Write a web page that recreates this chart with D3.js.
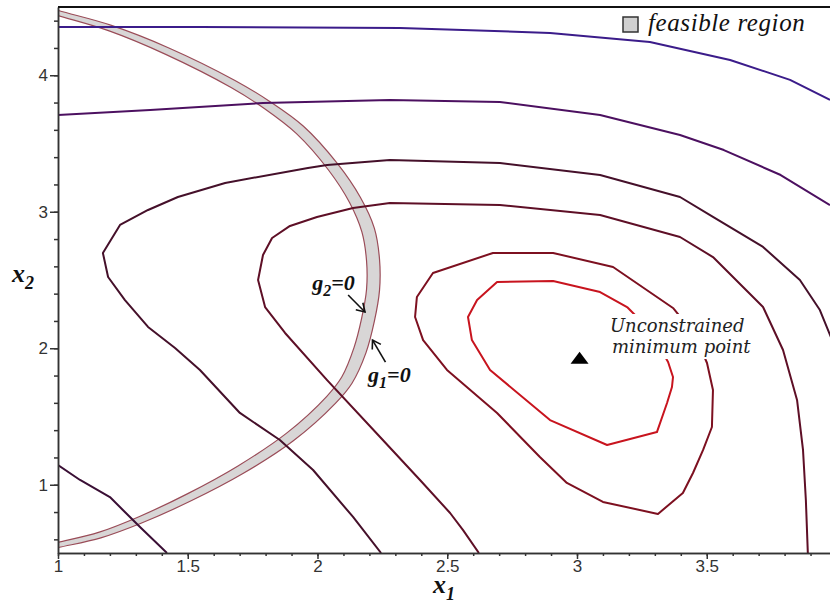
<!DOCTYPE html>
<head>
    <meta charset="utf-8">
    <script src="https://d3js.org/d3.v7.min.js"></script>
    <style>
        body { margin:0; background:#fff; }
        .tick text { font-family: "Liberation Sans", Arial, sans-serif; font-size: 17px; fill: #333; }
        .domain, .tick line { stroke: #333; stroke-width: 1.5; }
        .contour { fill: none; stroke-width: 2; stroke-linejoin: round; }
        .band { fill: #d8d6d6; stroke: none; }
        .edge { fill: none; stroke: #9a4c58; stroke-width: 1.2; }
        .note { font-family: "Liberation Serif", serif; font-style: italic; font-weight: bold; font-size: 22px; fill: #111; }
        .axlabel { font-family: "Liberation Serif", serif; font-style: italic; font-weight: bold; font-size: 26px; fill: #111; }
        .legend { font-family: "Liberation Serif", serif; font-style: italic; font-size: 25px; letter-spacing: 0.6px; fill: #111; }
        .minnote { font-family: "DejaVu Serif", serif; font-style: italic; font-size: 18px; fill: #222; }
    </style>
</head>

<body>
<script>
    // axis ticks
    var xTicks = [1, 1.5, 2, 2.5, 3, 3.5];
    var yTicks = [1, 2, 3, 4];

    // contour levels as (x1, x2)
    var levelA = [[1.00,4.354],[1.547,4.354],[2.318,4.346],[2.896,4.310],[3.281,4.244],[3.590,4.112],[3.821,3.966],[3.975,3.819]];
    var levelB = [[1.00,3.709],[1.355,3.745],[1.790,3.797],[2.279,3.819],[2.703,3.804],[3.089,3.709],[3.397,3.562],[3.566,3.452],[3.785,3.269],[3.975,3.049]];
    var levelC = [[3.983,2.060],[3.936,2.280],[3.859,2.500],[3.717,2.742],[3.524,2.962],[3.397,3.108],[3.089,3.269],[2.703,3.357],
        [2.279,3.379],[2.037,3.342],[1.963,3.321],[1.644,3.211],[1.462,3.108],[1.347,3.013],[1.239,2.903],[1.173,2.698],
        [1.193,2.522],[1.258,2.353],[1.347,2.156],[1.451,2.002],[1.547,1.841],[1.701,1.526],[1.855,1.328],[1.983,1.108],
        [2.137,0.764],[2.245,0.500]];
    var levelD = [[3.890,0.478],[3.882,0.888],[3.871,1.255],[3.848,1.621],[3.794,1.987],[3.717,2.302],[3.524,2.668],[3.397,2.815],
        [3.089,2.976],[2.703,3.049],[2.279,3.064],[2.137,3.027],[1.998,2.962],[1.894,2.896],[1.825,2.808],[1.790,2.683],
        [1.771,2.500],[1.798,2.302],[1.875,2.112],[2.037,1.767],[2.241,1.350],[2.395,1.035],[2.511,0.793],[2.561,0.668],[2.622,0.500]];
    var levelE = [[3.370,2.295],[3.139,2.595],[2.908,2.698],[2.676,2.698],[2.445,2.551],[2.383,2.375],[2.376,2.229],[2.407,2.060],
        [2.499,1.841],[2.692,1.526],[2.857,1.203],[2.961,1.013],[3.100,0.874],[3.312,0.786],[3.408,0.940],[3.447,1.086],
        [3.486,1.255],[3.520,1.423],[3.524,1.694],[3.501,1.892],[3.455,2.097],[3.370,2.295]];
    var levelF = [[3.193,2.302],[3.089,2.412],[2.908,2.493],[2.692,2.485],[2.615,2.353],[2.580,2.229],[2.595,2.060],[2.665,1.841],
        [2.896,1.474],[3.116,1.291],[3.308,1.386],[3.347,1.599],[3.366,1.716],[3.370,1.789],[3.351,1.899],[3.281,2.134],[3.193,2.302]];
    var levelG = [[0.97,1.17],[1.000,1.145],[1.085,1.035],[1.200,0.910],[1.250,0.815],[1.316,0.690],[1.420,0.500]];

    // constraint boundaries
    var g1Edge = [[0.894,4.537],[1.002,4.474],[1.203,4.367],[1.425,4.202],[1.682,3.962],[1.816,3.808],[1.946,3.626],[2.077,3.352],
        [2.165,3.106],[2.219,2.880],[2.239,2.652],[2.239,2.424],[2.219,2.196],[2.187,1.968],[2.133,1.744],[2.069,1.596],
        [1.907,1.322],[1.711,1.080],[1.515,0.884],[1.320,0.718],[1.165,0.611],[1.002,0.540],[0.894,0.493]];
    var g2Edge = [[0.890,4.500],[0.998,4.438],[1.197,4.325],[1.415,4.153],[1.667,3.910],[1.795,3.756],[1.919,3.572],[2.043,3.304],
        [2.124,3.066],[2.171,2.852],[2.189,2.641],[2.189,2.430],[2.170,2.218],[2.141,2.006],[2.094,1.791],[2.035,1.646],
        [1.881,1.378],[1.692,1.136],[1.502,0.937],[1.312,0.766],[1.159,0.653],[0.998,0.577],[0.890,0.529]];

    var minPoint = [3.01, 1.93];

    var contours = [
        { pts: levelA, color: '#3b1c8a' },
        { pts: levelB, color: '#4c1060' },
        { pts: levelG, color: '#3a0f35' },
        { pts: levelC, color: '#45102a' },
        { pts: levelD, color: '#5e0f26' },
        { pts: levelE, color: '#7d1020' },
        { pts: levelF, color: '#c8141e' }
    ];

    var width = 830, height = 608;
    var pLeft = 58, pRight = 830, pTop = 7, pBottom = 553;

    var x = d3.scaleLinear().domain([1, 3.975]).range([pLeft, pRight]);
    var y = d3.scaleLinear().domain([0.5, 4.5]).range([pBottom, pTop]);

    var svg = d3.select('body').append('svg')
        .attr('width', width)
        .attr('height', height);

    var defs = svg.append('defs');
    defs.append('clipPath').attr('id', 'plot')
        .append('rect')
        .attr('x', pLeft).attr('y', pTop)
        .attr('width', pRight - pLeft).attr('height', pBottom - pTop);

    var marker = defs.append('marker')
        .attr('id', 'arrow')
        .attr('markerUnits', 'userSpaceOnUse')
        .attr('markerWidth', 20).attr('markerHeight', 20)
        .attr('refX', 10).attr('refY', 10)
        .attr('orient', 'auto');
    marker.append('path')
        .attr('d', 'M2,5 L10,10 L2,15')
        .attr('fill', 'none').attr('stroke', '#111').attr('stroke-width', 1.6);

    var line = d3.line().x(d => x(d[0])).y(d => y(d[1]));
    var smooth = d3.line().x(d => x(d[0])).y(d => y(d[1])).curve(d3.curveCatmullRom);

    var plot = svg.append('g').attr('clip-path', 'url(#plot)');

    // feasible band
    plot.append('path')
        .attr('class', 'band')
        .attr('d', smooth(g1Edge) + 'L' + smooth(g2Edge.slice().reverse()).slice(1) + 'Z');
    plot.append('path').attr('class', 'edge').attr('d', smooth(g1Edge));
    plot.append('path').attr('class', 'edge').attr('d', smooth(g2Edge));

    contours.forEach(c => {
        plot.append('path')
            .attr('class', 'contour')
            .attr('stroke', c.color)
            .attr('d', line(c.pts));
    });

    // axes
    svg.append('g')
        .attr('transform', 'translate(0,' + pBottom + ')')
        .call(d3.axisBottom(x).tickValues(d3.range(1, 3.95, 0.1)).tickSize(3).tickFormat('').tickSizeOuter(0));
    svg.append('g')
        .attr('transform', 'translate(0,' + pBottom + ')')
        .call(d3.axisBottom(x).tickValues(xTicks).tickSize(6).tickPadding(1).tickFormat(d3.format('')).tickSizeOuter(0));
    svg.append('g')
        .attr('transform', 'translate(' + pLeft + ',0)')
        .call(d3.axisLeft(y).tickValues(d3.range(0.6, 4.5, 0.2)).tickSize(4).tickFormat('').tickSizeOuter(0));
    svg.append('g')
        .attr('transform', 'translate(' + pLeft + ',0)')
        .call(d3.axisLeft(y).tickValues(yTicks).tickSize(8).tickPadding(2).tickFormat(d3.format('')).tickSizeOuter(0));

    svg.append('line')
        .attr('x1', pLeft).attr('x2', pRight)
        .attr('y1', pTop).attr('y2', pTop)
        .attr('stroke', '#111').attr('stroke-width', 2);

    // axis titles
    var xl = svg.append('text').attr('class', 'axlabel')
        .attr('x', (pLeft + pRight) / 2).attr('y', 593).attr('text-anchor', 'middle');
    xl.append('tspan').text('x');
    xl.append('tspan').attr('dy', 7).attr('font-size', 18).text('1');

    var yl = svg.append('text').attr('class', 'axlabel')
        .attr('x', 12).attr('y', 282);
    yl.append('tspan').text('x');
    yl.append('tspan').attr('dy', 7).attr('font-size', 18).text('2');

    // unconstrained minimum
    var tri = [x(minPoint[0]), y(minPoint[1])];
    svg.append('path')
        .attr('d', 'M' + (tri[0] - 9) + ',' + (tri[1] + 6) + 'L' + (tri[0] + 9) + ',' + (tri[1] + 6) + 'L' + tri[0] + ',' + (tri[1] - 6) + 'Z')
        .attr('fill', '#000');

    var noteG = svg.append('g');
    var noteBg = noteG.append('rect').attr('fill', '#fff');
    var note = noteG.append('text').attr('class', 'minnote');
    note.append('tspan').attr('x', x(3.127)).attr('y', y(2.119)).text('Unconstrained');
    note.append('tspan').attr('x', x(3.135)).attr('y', y(1.965)).text('minimum point');
    var bb = note.node().getBBox();
    noteBg.attr('x', bb.x - 3).attr('y', bb.y - 1).attr('width', bb.width + 2).attr('height', bb.height + 3);

    // constraint labels
    function gLabel(sub, px, py) {
        var t = svg.append('text').attr('class', 'note').attr('x', x(px)).attr('y', y(py));
        t.append('tspan').text('g');
        t.append('tspan').attr('dy', 6).attr('font-size', 16).text(sub);
        t.append('tspan').attr('dy', -6).text('=0');
    }
    gLabel('2', 1.98, 2.43);
    gLabel('1', 2.195, 1.753);

    svg.append('line')
        .attr('x1', x(2.118)).attr('y1', y(2.390))
        .attr('x2', x(2.183)).attr('y2', y(2.266))
        .attr('stroke', '#111').attr('stroke-width', 1.6)
        .attr('marker-end', 'url(#arrow)');
    svg.append('line')
        .attr('x1', x(2.262)).attr('y1', y(1.899))
        .attr('x2', x(2.212)).attr('y2', y(2.060))
        .attr('stroke', '#111').attr('stroke-width', 1.6)
        .attr('marker-end', 'url(#arrow)');

    // legend
    svg.append('rect')
        .attr('x', 623).attr('y', 17).attr('width', 15).attr('height', 15)
        .attr('fill', '#d0d0d0').attr('stroke', '#333').attr('stroke-width', 1.5);
    svg.append('text').attr('class', 'legend')
        .attr('x', 648).attr('y', 31)
        .text('feasible region');
</script>
</body>
